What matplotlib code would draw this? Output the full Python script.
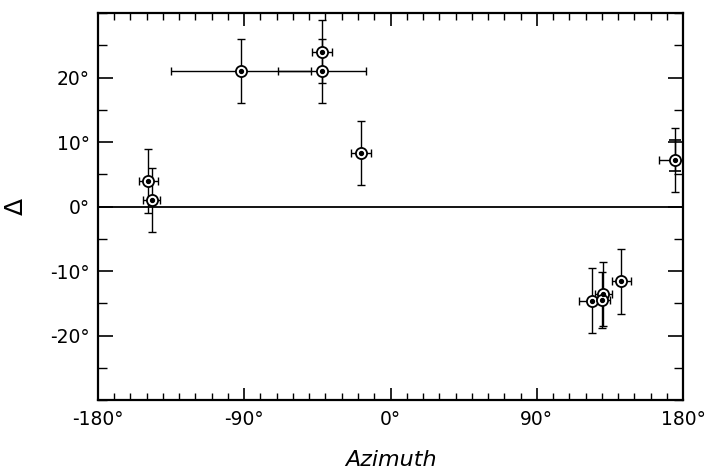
import matplotlib

matplotlib.use("Agg")
import matplotlib.pyplot as plt
from matplotlib.ticker import MultipleLocator, FuncFormatter

# values
azimuth = [-149, -147, -92, -42, -42, -18, 175, 124, 131, 130, 142]
delta = [4.0, 1.0, 21.0, 21.0, 24.0, 8.3, 7.2, -14.6, -13.6, -14.5, -11.6]
delta_err = [5.0, 5.0, 5.0, 5.0, 4.9, 4.9, 5.0, 5.0, 5.0, 4.3, 5.0]
azimuth_err = [6, 5, 43, 27, 6.3, 6, 10, 8, 5, 5, 6]

# inner error bar seen on the right-hand point
inner_az = [175]
inner_delta = [7.9]
inner_err = [2.4]

x_ticks = [-180, -90, 0, 90, 180]
y_ticks = [-20, -10, 0, 10, 20]

plt.rcParams["font.family"] = ["DejaVu Sans"]

fig = plt.figure(figsize=(7.1, 4.7), dpi=100)
ax = fig.add_axes([0.138, 0.149, 0.824, 0.823])

ax.axhline(0, color="black", lw=1.3, zorder=1)

ax.errorbar(azimuth, delta, xerr=azimuth_err, yerr=delta_err, fmt="none",
            ecolor="black", elinewidth=1.0, capsize=3, capthick=1.0, zorder=2)
ax.errorbar(inner_az, inner_delta, yerr=inner_err, fmt="none",
            ecolor="black", elinewidth=1.0, capsize=4, capthick=1.2, zorder=2)
ax.plot(azimuth, delta, "o", ms=8, mfc="white", mec="black", mew=1.3, zorder=3)
ax.plot(azimuth, delta, "o", ms=2.8, color="black", zorder=4)

ax.set_xlim(-180, 180)
ax.set_ylim(-30, 30)
ax.set_xticks(x_ticks)
ax.set_yticks(y_ticks)
ax.xaxis.set_minor_locator(MultipleLocator(10))
ax.yaxis.set_minor_locator(MultipleLocator(5))
deg = FuncFormatter(lambda v, p: f"{int(v)}\u00b0")
ax.xaxis.set_major_formatter(deg)
ax.yaxis.set_major_formatter(deg)

ax.tick_params(which="both", direction="in", top=True, right=True,
               colors="black", labelsize=13.5)
ax.tick_params(axis="x", which="major", length=9, width=1.2, pad=7)
ax.tick_params(axis="x", which="minor", length=5, width=1.0)
ax.tick_params(axis="y", which="major", length=11, width=1.2, pad=6)
ax.tick_params(axis="y", which="minor", length=6.5, width=1.0)
for s in ax.spines.values():
    s.set_linewidth(1.6)

ax.set_xlabel("Azimuth", fontsize=16, style="italic", labelpad=15)
ax.set_ylabel("\u0394", fontsize=18, rotation=90, labelpad=16)

fig.savefig("out.png", dpi=100)
